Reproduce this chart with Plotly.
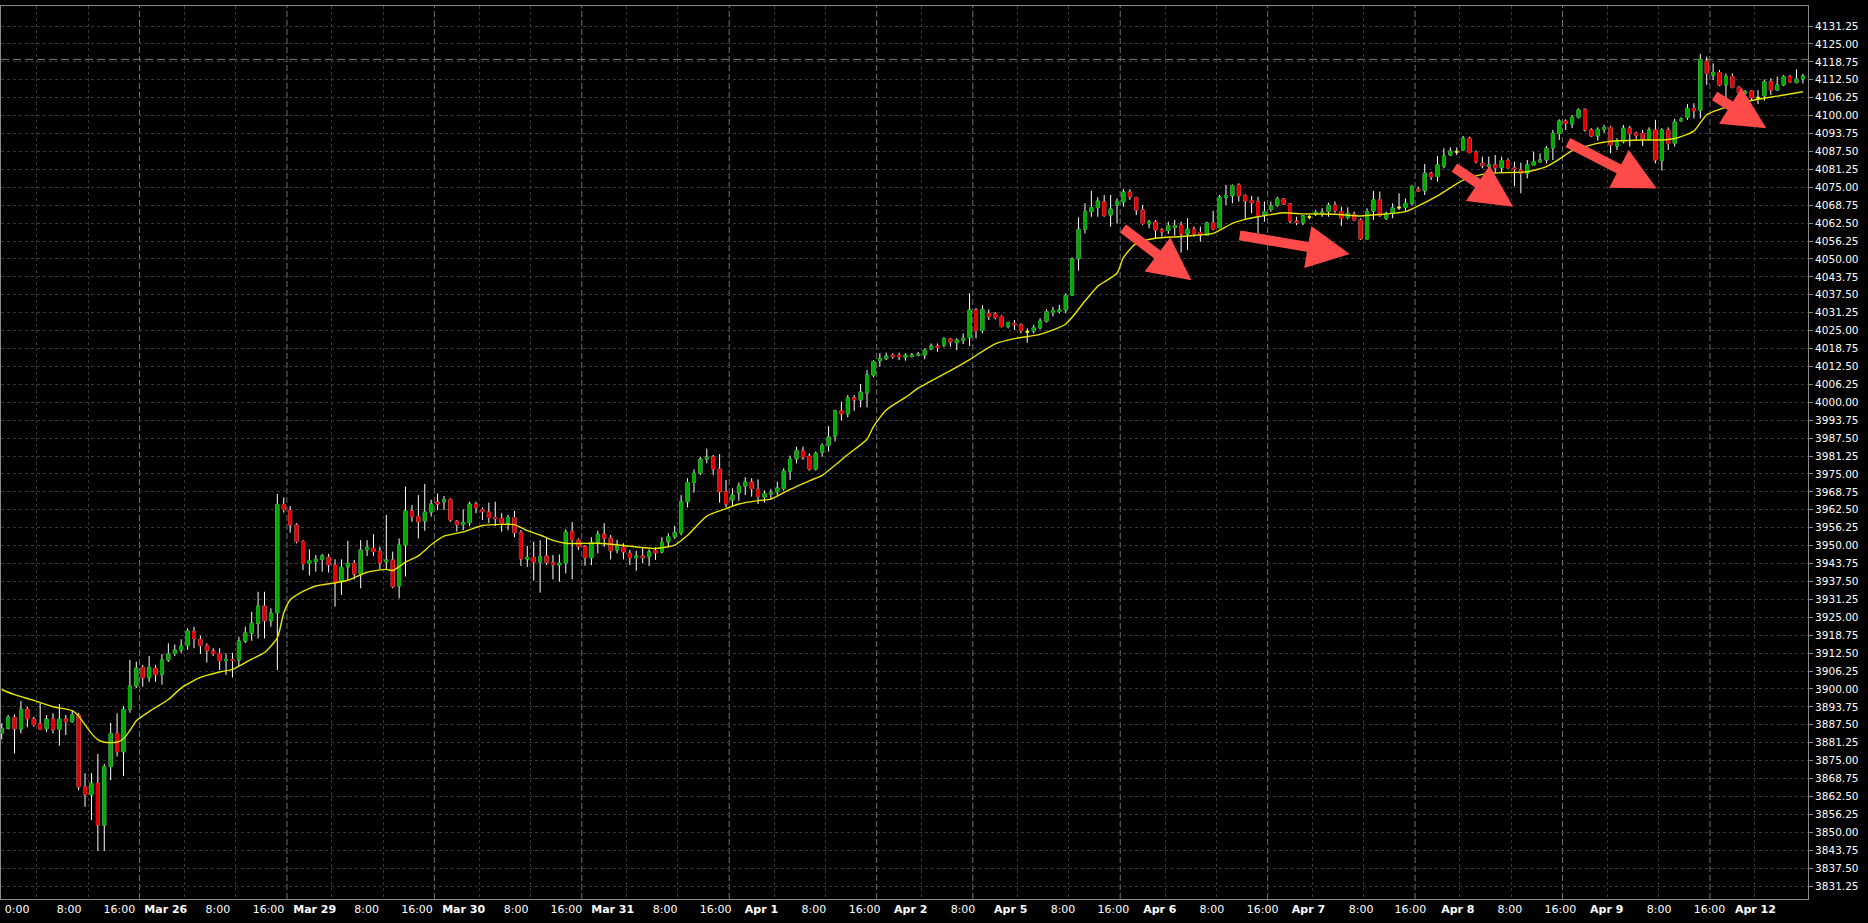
import plotly.graph_objects as go

# ---------------- data (hourly bars) ----------------
open_ = [3884.5,3886.3,3890.1,3886.1,3892.9,3889.5,3887.8,3886.1,3889.5,3885.9,
         3889.5,3888.6,3890.9,3865.9,3863.1,3867.1,3852.5,3872.9,3884.5,3878.1,
         3892.9,3901.0,3907.5,3903.9,3907.2,3905.0,3910.1,3912.4,3913.6,3915.1,
         3920.0,3917.3,3915.1,3913.2,3912.3,3909.9,3910.3,3910.1,3916.7,3919.5,
         3922.9,3928.9,3923.8,3926.6,3964.3,3962.4,3957.2,3951.4,3943.8,3944.5,
         3945.2,3945.9,3943.2,3937.4,3942.6,3943.8,3940.1,3948.5,3949.0,3947.9,
         3944.4,3945.0,3935.9,3950.2,3962.1,3960.1,3958.6,3961.7,3965.2,3965.3,
         3966.1,3958.5,3957.4,3958.0,3964.5,3962.6,3961.7,3959.8,3959.5,3957.8,
         3959.8,3954.5,3945.3,3945.9,3944.3,3946.4,3944.0,3943.3,3943.9,3955.0,
         3952.0,3949.6,3945.8,3951.1,3954.0,3952.6,3948.5,3949.4,3947.3,3945.8,
         3946.4,3946.1,3948.2,3947.8,3951.25,3953.1,3954.5,3965.3,3972.0,3975.3,
         3980.2,3980.9,3976.7,3968.8,3965.9,3968.4,3970.8,3972.2,3969.6,3966.8,
         3968.0,3968.8,3969.9,3976.0,3980.3,3983.0,3981.25,3976.7,3982.6,3984.9,
         3988.2,3997.0,3996.0,4001.5,4000.8,4003.3,4009.5,4014.5,4015.2,4016.4,
         4016.4,4015.7,4016.0,4016.4,4016.5,4018.6,4019.6,4020.0,4022.1,4020.8,
         4021.7,4022.5,4032.2,4025.0,4031.0,4030.8,4029.9,4026.4,4027.5,4027.0,
         4024.6,4024.9,4026.0,4028.3,4031.25,4031.7,4032.2,4037.4,4050.0,4060.4,
         4066.5,4067.9,4069.9,4065.3,4068.8,4069.9,4073.35,4071.4,4067.1,4062.2,
         4062.9,4060.1,4059.9,4061.0,4061.8,4058.7,4060.4,4059.2,4058.2,4062.5,
         4060.9,4071.5,4072.0,4075.8,4072.1,4070.3,4070.0,4065.1,4067.3,4068.8,
         4070.9,4069.2,4063.2,4062.65,4064.6,4065.7,4065.9,4066.5,4068.8,4066.5,
         4064.5,4065.6,4063.6,4057.0,4066.7,4070.6,4064.2,4065.9,4067.9,4068.0,
         4069.4,4074.3,4073.8,4079.9,4078.7,4082.4,4086.25,4087.4,4088.0,4092.1,
         4087.1,4083.35,4082.2,4082.8,4081.8,4084.3,4081.8,4081.0,4079.9,4082.8,
         4083.9,4084.5,4088.7,4093.8,4098.1,4097.1,4099.4,4102.0,4095.0,4092.9,
         4095.2,4095.8,4089.4,4090.9,4095.6,4093.8,4093.8,4091.8,4095.0,4084.3,
         4095.0,4090.3,4098.2,4099.3,4102.5,4101.9,4119.0,4114.15,4115.0,4110.7,
         4113.6,4109.85,4107.8,4108.6,4106.25,4106.9,4111.8,4108.9,4110.7,4113.6,
         4111.5,4112.8]
high = [3888.0,3890.9,3891.1,3895.8,3893.8,3890.3,3895.0,3890.9,3891.5,3894.7,
        3890.9,3892.6,3891.7,3870.6,3870.6,3877.3,3873.8,3888.2,3891.5,3894.0,
        3910.1,3909.5,3908.4,3911.5,3908.4,3912.2,3915.9,3915.5,3917.3,3921.1,
        3921.7,3918.6,3915.9,3914.2,3914.2,3912.4,3912.6,3918.2,3921.7,3926.9,
        3933.9,3933.9,3928.1,3968.0,3966.8,3963.8,3957.8,3951.9,3948.7,3946.7,
        3947.1,3947.1,3945.2,3945.2,3951.6,3945.0,3951.9,3951.9,3954.0,3949.6,
        3960.7,3947.9,3952.5,3970.6,3964.2,3967.6,3971.5,3966.0,3968.2,3967.3,
        3966.5,3958.9,3962.6,3965.3,3965.3,3963.3,3965.0,3965.3,3961.3,3960.7,
        3962.1,3955.4,3949.9,3951.4,3951.9,3952.9,3946.7,3946.9,3955.7,3958.2,
        3952.5,3950.2,3952.9,3955.2,3957.8,3953.7,3952.0,3950.8,3948.5,3948.2,
        3949.6,3948.7,3949.4,3952.9,3954.3,3956.9,3967.6,3973.5,3976.6,3981.0,
        3983.8,3981.6,3981.9,3972.9,3970.0,3972.0,3973.8,3973.5,3973.1,3969.2,
        3969.7,3972.3,3977.0,3981.4,3984.5,3984.5,3982.2,3982.8,3985.7,3991.7,
        3997.3,4000.2,4002.5,4002.5,4006.4,4011.3,4014.7,4017.1,4017.3,4017.1,
        4017.3,4017.1,4017.2,4017.5,4018.8,4020.5,4020.5,4022.65,4022.3,4022.3,
        4024.0,4038.0,4032.8,4033.9,4032.4,4031.5,4030.4,4028.1,4028.7,4027.5,
        4025.8,4027.0,4029.3,4032.4,4033.3,4034.0,4038.0,4050.5,4064.5,4069.4,
        4073.8,4071.5,4072.3,4072.3,4071.1,4074.4,4074.3,4071.7,4068.8,4063.6,
        4063.6,4060.7,4063.0,4063.6,4063.0,4064.2,4061.3,4061.3,4063.0,4066.8,
        4072.3,4075.8,4076.0,4076.4,4072.6,4072.0,4071.7,4070.0,4070.0,4071.7,
        4071.1,4069.4,4064.7,4065.3,4065.3,4067.1,4067.7,4069.6,4070.0,4068.2,
        4068.0,4066.5,4064.2,4067.65,4073.7,4073.5,4066.5,4069.4,4072.9,4071.1,
        4075.7,4075.2,4083.1,4080.4,4085.9,4088.6,4088.9,4088.9,4092.9,4092.65,
        4087.8,4085.7,4085.7,4086.25,4085.7,4085.1,4083.9,4083.6,4084.5,4087.4,
        4086.8,4089.4,4095.0,4098.7,4098.7,4100.2,4102.5,4102.5,4095.6,4095.9,
        4096.7,4096.4,4092.1,4096.7,4096.4,4094.4,4095.0,4095.9,4098.5,4095.6,
        4095.9,4098.9,4099.4,4104.0,4104.3,4121.5,4120.55,4118.2,4115.9,4114.7,
        4114.7,4110.3,4108.9,4108.9,4108.9,4112.6,4113.0,4113.6,4114.15,4114.15,
        4116.1,4114.5]
low = [3882.4,3885.9,3877.5,3884.5,3886.6,3886.8,3885.7,3885.0,3884.5,3880.2,
       3883.9,3888.2,3864.7,3858.9,3854.3,3843.5,3843.5,3868.2,3876.4,3869.6,
       3891.7,3900.3,3900.8,3902.5,3902.5,3901.5,3909.4,3911.5,3912.6,3913.6,
       3914.2,3912.2,3909.2,3911.5,3906.6,3904.9,3904.0,3907.8,3916.0,3916.8,
       3917.6,3917.6,3921.7,3906.6,3961.5,3954.5,3950.8,3941.5,3939.6,3940.9,
       3940.9,3940.6,3928.7,3932.8,3938.0,3938.2,3935.1,3946.4,3946.4,3941.7,
       3941.5,3935.1,3931.6,3939.2,3958.3,3952.5,3955.2,3960.1,3962.4,3962.4,
       3958.3,3954.9,3955.4,3956.8,3961.3,3958.9,3957.8,3956.8,3954.9,3955.4,
       3952.9,3942.9,3942.6,3937.8,3933.6,3943.2,3938.2,3937.4,3940.3,3938.2,
       3948.5,3943.0,3943.2,3947.3,3949.6,3945.2,3947.3,3945.2,3943.2,3941.2,
       3943.8,3942.9,3945.0,3947.3,3949.6,3952.3,3953.6,3963.3,3968.5,3974.6,
       3978.7,3974.6,3965.0,3963.3,3963.8,3965.6,3967.6,3967.1,3964.5,3965.0,
       3965.9,3967.6,3969.2,3972.9,3978.7,3979.9,3976.2,3976.2,3981.0,3982.8,
       3986.3,3993.6,3994.7,3997.0,3998.2,3998.2,4008.7,4012.4,4014.7,4015.2,
       4014.7,4014.5,4015.6,4016.0,4015.0,4018.2,4017.6,4019.2,4019.4,4018.2,
       4020.3,4019.6,4022.3,4024.0,4028.7,4028.9,4026.1,4025.8,4025.2,4024.0,
       4020.8,4024.0,4025.4,4027.8,4029.9,4031.0,4031.0,4037.1,4045.9,4058.9,
       4064.7,4064.7,4064.7,4061.3,4062.4,4068.2,4070.6,4065.3,4061.8,4060.7,
       4057.2,4057.8,4058.7,4058.1,4052.2,4053.1,4057.8,4056.0,4058.1,4060.1,
       4060.7,4068.8,4069.4,4070.0,4063.6,4065.9,4058.9,4063.0,4066.5,4068.2,
       4068.8,4062.4,4061.8,4061.8,4063.8,4065.0,4064.7,4064.7,4066.1,4061.5,
       4063.8,4063.35,4056.6,4056.9,4063.6,4064.7,4063.6,4064.2,4067.1,4066.5,
       4068.8,4073.5,4072.3,4077.5,4076.9,4081.6,4086.0,4086.25,4087.8,4086.8,
       4083.35,4081.6,4079.9,4079.9,4079.9,4081.6,4075.4,4072.9,4078.1,4082.75,
       4083.6,4083.35,4084.5,4091.5,4095.0,4095.6,4099.0,4094.4,4092.65,4091.25,
       4094.0,4086.8,4088.0,4090.3,4089.2,4091.5,4089.4,4091.5,4083.35,4080.8,
       4088.0,4089.2,4097.9,4098.5,4099.0,4099.0,4110.7,4112.4,4110.3,4106.0,
       4109.5,4107.5,4107.4,4105.2,4104.0,4105.2,4107.2,4108.7,4110.3,4111.5,
       4111.25,4111.25]
close = [3886.3,3890.1,3886.1,3892.9,3889.6,3887.6,3885.9,3889.5,3885.9,3889.5,
         3888.6,3890.9,3865.9,3863.1,3867.1,3852.5,3872.9,3884.5,3878.1,3892.9,
         3901.0,3907.2,3903.9,3907.5,3905.0,3910.1,3912.2,3913.6,3915.0,3920.2,
         3917.6,3915.1,3913.3,3912.3,3909.9,3910.3,3909.9,3916.7,3919.5,3922.9,
         3928.9,3923.8,3926.4,3964.3,3962.6,3957.2,3951.4,3943.8,3944.7,3945.2,
         3946.4,3943.3,3937.1,3942.4,3943.8,3940.1,3948.5,3949.4,3947.9,3944.0,
         3945.0,3935.7,3950.2,3962.1,3960.1,3958.3,3961.7,3964.5,3964.5,3966.1,
         3958.9,3957.3,3958.0,3964.5,3963.3,3961.8,3959.8,3959.4,3957.8,3959.8,
         3954.5,3945.4,3945.9,3944.3,3946.1,3944.0,3943.3,3943.9,3954.7,3952.0,
         3949.6,3945.8,3951.1,3954.0,3952.6,3948.2,3949.6,3947.8,3945.8,3946.4,
         3945.8,3947.8,3947.5,3951.1,3953.1,3954.6,3965.3,3972.0,3975.2,3980.2,
         3980.9,3976.7,3968.8,3964.5,3967.6,3970.8,3972.2,3969.9,3967.1,3968.2,
         3968.6,3970.1,3976.0,3980.1,3983.2,3980.9,3976.7,3982.2,3984.9,3987.9,
         3997.0,3996.0,4001.5,4000.8,4003.6,4009.5,4014.2,4015.2,4016.1,4015.9,
         4015.9,4016.4,4016.5,4016.8,4018.2,4019.6,4019.2,4022.1,4021.1,4021.7,
         4022.3,4032.2,4025.0,4032.4,4029.9,4029.6,4026.4,4027.8,4027.0,4025.0,
         4024.6,4026.0,4028.3,4031.6,4032.0,4032.2,4037.2,4050.0,4060.4,4066.5,
         4067.9,4070.2,4065.2,4067.4,4070.0,4073.35,4071.7,4067.1,4062.4,4062.9,
         4060.1,4059.4,4061.6,4061.6,4058.7,4060.4,4058.9,4058.35,4062.5,4060.4,
         4071.6,4072.1,4075.6,4072.0,4070.3,4069.6,4065.0,4066.5,4068.5,4070.9,
         4069.2,4063.2,4062.65,4065.0,4064.6,4066.25,4066.3,4068.8,4066.8,4064.2,
         4065.9,4063.6,4057.0,4066.5,4070.6,4065.1,4065.9,4067.8,4067.9,4069.4,
         4075.2,4073.7,4079.9,4078.7,4082.8,4085.9,4087.65,4087.4,4092.1,4087.1,
         4083.9,4082.5,4082.8,4081.8,4084.3,4081.8,4081.25,4079.9,4082.8,4083.9,
         4084.5,4088.6,4093.8,4098.1,4097.3,4099.4,4102.0,4095.0,4092.9,4095.2,
         4095.8,4089.7,4090.9,4095.6,4093.8,4093.1,4091.8,4095.0,4084.5,4095.0,
         4090.3,4097.8,4098.8,4102.5,4101.7,4119.6,4114.7,4115.0,4110.7,4113.6,
         4109.85,4108.0,4108.3,4106.25,4106.25,4111.8,4108.9,4110.7,4113.6,4111.8,
         4112.8,4113.8]

# moving average (bar index, value)
ma_bar = [0,2,5,8,11,12,13,14,15,16,18,19,20,21,23,26,28,31,34,36,39,41,43,44,45,
          47,49,52,54,57,60,61,63,65,67,69,72,75,78,80,82,84,86,88,93,96,100,102,
          105,107,110,113,115,118,120,123,126,128,130,132,135,136,138,141,143,148,
          151,155,158,162,166,169,171,174,175,177,180,184,187,189,192,194,196,200,
          203,208,212,215,219,221,224,228,231,234,238,241,243,245,249,252,256,259,
          261,264,266,268,271,274,277,281]
ma_value = [3899.8,3898.0,3896.0,3893.8,3892.4,3890.5,3887.5,3884.5,3882.3,3881.4,
            3881.4,3882.6,3885.5,3888.9,3892.1,3896.3,3900.3,3904.0,3905.9,3906.8,
            3910.4,3912.7,3917.8,3926.5,3931.0,3934.0,3935.9,3937.0,3937.9,3940.7,
            3941.7,3941.3,3944.2,3946.4,3950.3,3953.3,3954.8,3957.0,3957.4,3957.3,
            3955.2,3953.7,3951.8,3950.8,3950.8,3950.3,3949.3,3949.0,3950.2,3953.6,
            3960.3,3962.9,3964.5,3965.7,3966.2,3969.6,3972.6,3974.5,3978.0,3981.8,
            3987.1,3991.5,3997.3,4001.7,4004.9,4011.0,4014.9,4020.4,4022.2,4023.7,
            4027.3,4035.3,4040.5,4045.0,4050.5,4055.4,4057.2,4057.8,4058.4,4058.9,
            4062.4,4063.8,4064.7,4066.1,4065.7,4065.6,4065.0,4065.5,4066.5,4068.5,
            4072.0,4077.5,4079.5,4080.1,4080.4,4082.2,4084.8,4087.8,4090.3,4091.2,
            4091.5,4091.5,4092.0,4094.6,4100.3,4102.2,4104.3,4105.7,4106.8,4108.3]

# trading sessions shown (first one starts one bar before the left edge)
session_names = ["Mar 25", "Mar 26", "Mar 29", "Mar 30", "Mar 31", "Apr 1", "Apr 2",
                 "Apr 5", "Apr 6", "Apr 7", "Apr 8", "Apr 9", "Apr 12"]
session_lengths = [23, 23, 23, 23, 23, 23, 15, 23, 23, 23, 23, 23, 15]
first_session_start = -1

tick_text = ["0:00", "8:00", "16:00", "<b>Mar 26</b>", "8:00", "16:00", "<b>Mar 29</b>",
             "8:00", "16:00", "<b>Mar 30</b>", "8:00", "16:00", "<b>Mar 31</b>", "8:00",
             "16:00", "<b>Apr 1</b>", "8:00", "16:00", "<b>Apr 2</b>", "8:00",
             "<b>Apr 5</b>", "8:00", "16:00", "<b>Apr 6</b>", "8:00", "16:00",
             "<b>Apr 7</b>", "8:00", "16:00", "<b>Apr 8</b>", "8:00", "16:00",
             "<b>Apr 9</b>", "8:00", "16:00", "<b>Apr 12</b>"]
tick_pos = [2.39, 10.53, 18.36, 25.60, 33.73, 41.62, 48.83, 56.94, 64.79, 72.06,
            80.25, 88.08, 95.32, 103.51, 111.37, 118.52, 126.69, 134.63, 141.81,
            149.97, 157.41, 165.57, 173.43, 180.67, 188.81, 196.72, 203.87, 212.09,
            219.78, 227.16, 235.30, 243.18, 250.39, 258.58, 266.43, 273.60]

price_ticks = [3831.25 + 6.25 * k for k in range(49)]
level_line = 4119.6

# drawn arrows: (tail bar, tail price, head bar, head price)
arrows = [(174.7, 4061.0, 185.6, 4042.6),
          (192.9, 4058.3, 210.3, 4051.7),
          (226.4, 4082.2, 235.8, 4068.2),
          (244.1, 4090.9, 258.2, 4074.6),
          (267.0, 4107.2, 275.3, 4095.6)]

# ---------------- styling ----------------
BG = "#000000"
GREEN = "#00A800"
RED = "#E00000"
DOJI = "#FFFF00"
MA_COLOR = "#E6E600"
GRID = "#383838"
SEP = "#707070"
FRAME = "#8a8a8a"
FONT = "DejaVu Sans"

n = len(open_)
x = list(range(n))
is_doji = [o == c for o, c in zip(open_, close)]

fig = go.Figure()

# white wicks (full candles, bodies covered afterwards)
fig.add_trace(go.Candlestick(
    x=x, open=open_, high=high, low=low, close=close,
    increasing=dict(line=dict(color="white", width=1), fillcolor="white"),
    decreasing=dict(line=dict(color="white", width=1), fillcolor="white"),
    whiskerwidth=0, hoverinfo="skip", showlegend=False))

# coloured bodies
bo = [None if d else o for o, d in zip(open_, is_doji)]
bc = [None if d else c for c, d in zip(close, is_doji)]
bh = [None if d else max(o, c) for o, c, d in zip(open_, close, is_doji)]
bl = [None if d else min(o, c) for o, c, d in zip(open_, close, is_doji)]
fig.add_trace(go.Candlestick(
    x=x, open=bo, high=bh, low=bl, close=bc,
    increasing=dict(line=dict(color=GREEN, width=1), fillcolor=GREEN),
    decreasing=dict(line=dict(color=RED, width=1), fillcolor=RED),
    whiskerwidth=0, hoverinfo="skip", showlegend=False))

# doji bodies
do = [o if d else None for o, d in zip(open_, is_doji)]
fig.add_trace(go.Candlestick(
    x=x, open=do, high=do, low=do, close=do,
    increasing=dict(line=dict(color=DOJI, width=2), fillcolor=DOJI),
    decreasing=dict(line=dict(color=DOJI, width=2), fillcolor=DOJI),
    whiskerwidth=0, hoverinfo="skip", showlegend=False))

# moving average
fig.add_trace(go.Scatter(x=ma_bar, y=ma_value, mode="lines",
                         line=dict(color=MA_COLOR, width=1.4, shape="spline", smoothing=0.6),
                         hoverinfo="skip", showlegend=False))

# session separators and intraday grid lines
starts = []
s = first_session_start
for L in session_lengths:
    starts.append(s)
    s += L
shapes = []
minor_vals = []
for k, (st, L) in enumerate(zip(starts, session_lengths)):
    sep = st - 0.5
    if k > 0:
        shapes.append(dict(type="line", xref="x", yref="paper", x0=sep, x1=sep, y0=0, y1=1,
                           line=dict(color=SEP, width=1, dash="6px,3px"), layer="below"))
    for off in (7, 15):
        if off < L:
            minor_vals.append(sep + off)

shapes.append(dict(type="line", xref="paper", yref="y", x0=0, x1=1, y0=level_line, y1=level_line,
                   line=dict(color="#7a7a7a", width=1, dash="8px,4px"), layer="below"))

annotations = []
for tx, ty, hx, hy in arrows:
    annotations.append(dict(x=hx, y=hy, ax=tx, ay=ty, xref="x", yref="y", axref="x", ayref="y",
                            text="", showarrow=True, arrowhead=2, arrowsize=0.85,
                            arrowwidth=10, arrowcolor="#FF4A4A", standoff=0))

x_lo, x_hi = -0.11, 281.8
y_lo, y_hi = 3826.72, 4138.23

fig.update_layout(
    template="none",
    width=1868, height=923,
    margin=dict(l=1, r=60, t=6, b=24, autoexpand=False),
    paper_bgcolor=BG, plot_bgcolor=BG,
    showlegend=False,
    boxgap=0.35,
    shapes=shapes,
    annotations=annotations,
    xaxis=dict(range=[x_lo, x_hi], rangeslider=dict(visible=False), automargin=False,
               tickmode="array", tickvals=tick_pos, ticktext=tick_text,
               showgrid=False, zeroline=False, ticks="",
               tickfont=dict(family=FONT, size=11, color="white"),
               showline=True, linecolor=FRAME, linewidth=1, mirror=True,
               minor=dict(tickmode="array", tickvals=minor_vals, showgrid=True,
                          gridcolor=GRID, griddash="3px,3px", gridwidth=1, ticks="")),
    yaxis=dict(range=[y_lo, y_hi], side="right", automargin=False,
               tickmode="array", tickvals=price_ticks,
               ticktext=[f"{v:.2f}" for v in price_ticks],
               showgrid=True, gridcolor=GRID, griddash="3px,3px",
               gridwidth=1, zeroline=False, ticks="outside", ticklen=4, tickcolor=FRAME,
               tickfont=dict(family=FONT, size=10.5, color="white"),
               showline=True, linecolor=FRAME, linewidth=1, mirror=True),
)

# remove the browser's default 8px page margin so the figure sits at the window origin
fig.write_html("out.html",
               config={"displayModeBar": False},
               post_script="document.body.style.margin='0';document.body.style.background='#000';")
